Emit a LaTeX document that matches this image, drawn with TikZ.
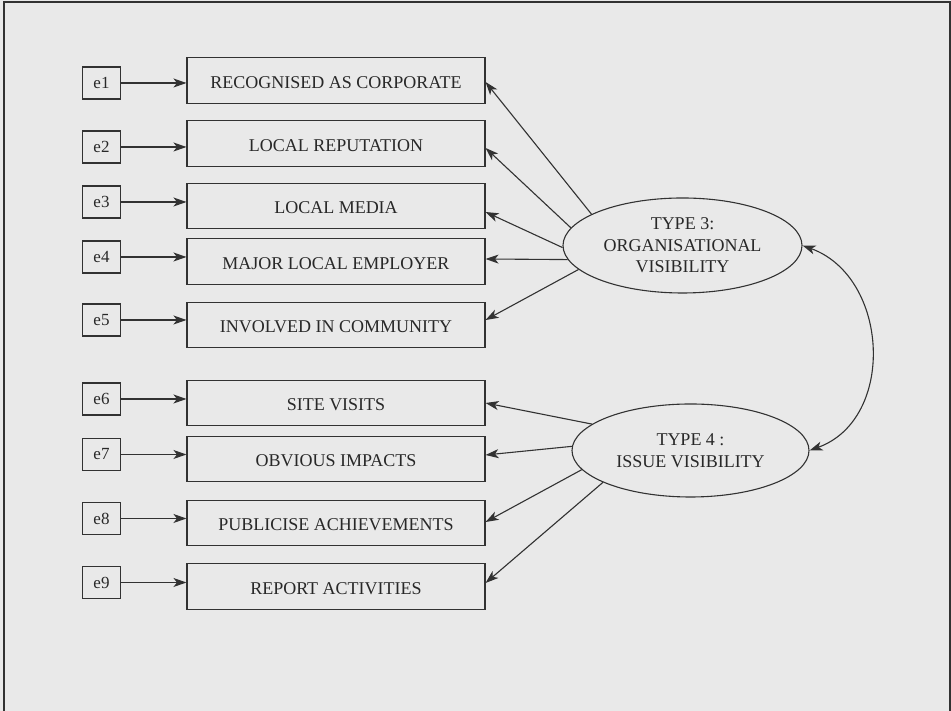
\documentclass[tikz,border=0pt]{standalone}
\usepackage{fontspec}
\setmainfont{Liberation Serif}
\usetikzlibrary{arrows.meta,shapes.geometric}
\definecolor{bg}{RGB}{233,233,233}
\definecolor{ink}{RGB}{50,50,50}
\definecolor{txt}{RGB}{40,40,40}
\tikzset{
  errbox/.style={draw=ink,line width=1.1pt,minimum width=38pt,minimum height=32pt,inner sep=0pt,font=\fontsize{17}{20}\selectfont,text=txt},
  itembox/.style={draw=ink,line width=1.1pt,minimum width=298pt,minimum height=45.5pt,inner sep=0pt,text height=16pt,text depth=0pt,font=\fontsize{18}{21}\selectfont,text=txt},
  latent/.style={ellipse,draw=ink,line width=1.1pt,inner sep=0pt,align=center,font=\fontsize{18}{21.5}\selectfont,text=txt},
  conn/.style={draw=ink,line width=1.1pt,-{Stealth[length=13pt,width=9pt,inset=3.5pt]}},
  dconn/.style={draw=ink,line width=1.1pt,{Stealth[length=13pt,width=9pt,inset=3.5pt]}-{Stealth[length=13pt,width=9pt,inset=3.5pt]}}
}
\begin{document}
\begin{tikzpicture}[x=1pt,y=1pt]
\useasboundingbox (0,0) rectangle (951,711);
\fill[bg] (0,0) rectangle (951,711);
\draw[ink,line width=1.4pt] (4,-2) -- (4,709) -- (950,709) -- (950,-2);
% error terms
\node[errbox] (e1) at (101.5,628) {e1};
\node[errbox] (e2) at (101.5,564) {e2};
\node[errbox] (e3) at (101.5,509) {e3};
\node[errbox] (e4) at (101.5,454) {e4};
\node[errbox] (e5) at (101.5,391) {e5};
\node[errbox] (e6) at (101.5,312) {e6};
\node[errbox] (e7) at (101.5,256.5) {e7};
\node[errbox] (e8) at (101.5,192.5) {e8};
\node[errbox] (e9) at (101.5,128.5) {e9};
% items
\node[itembox] (b1) at (336,630.5) {RECOGNISED AS CORPORATE};
\node[itembox] (b2) at (336,567.5) {LOCAL REPUTATION};
\node[itembox] (b3) at (336,505) {LOCAL MEDIA};
\node[itembox] (b4) at (336,449.5) {MAJOR LOCAL EMPLOYER};
\node[itembox] (b5) at (336,386) {INVOLVED IN COMMUNITY};
\node[itembox] (b6) at (336,308) {SITE VISITS};
\node[itembox] (b7) at (336,252) {OBVIOUS IMPACTS};
\node[itembox] (b8) at (336,188) {PUBLICISE ACHIEVEMENTS};
\node[itembox] (b9) at (336,124.5) {REPORT ACTIVITIES};
% latent variables
\node[latent,minimum width=239pt,minimum height=95pt] (T3) at (682.5,465.5) {TYPE 3:\\ORGANISATIONAL\\VISIBILITY};
\node[latent,minimum width=237pt,minimum height=93pt] (T4) at (690.5,260.5) {TYPE 4 :\\ISSUE VISIBILITY};
% error arrows
\foreach \i in {1,...,9}{
  \draw[conn] (e\i) -- (e\i -| b\i.west);
}
% loadings
\draw[conn] (T3.161) -- ([yshift=-1.5pt]b1.east);
\draw[conn] (T3.171) -- ([yshift=-4.5pt]b2.east);
\draw[conn] (T3.181) -- ([yshift=-6pt]b3.east);
\draw[conn] (T3.187) -- ([yshift=2.5pt]b4.east);
\draw[conn] (T3.193) -- ([yshift=5pt]b5.east);
\draw[conn] (T4.165) -- (b6.east);
\draw[conn] (T4.178) -- ([yshift=4pt]b7.east);
\draw[conn] (T4.190) -- ([yshift=1pt]b8.east);
\draw[conn] (T4.200) -- ([yshift=3.5pt]b9.east);
% covariance
\draw[dconn] (T3.east) to[out=-20,in=20,looseness=1.15] (T4.east);
\end{tikzpicture}
\end{document}
